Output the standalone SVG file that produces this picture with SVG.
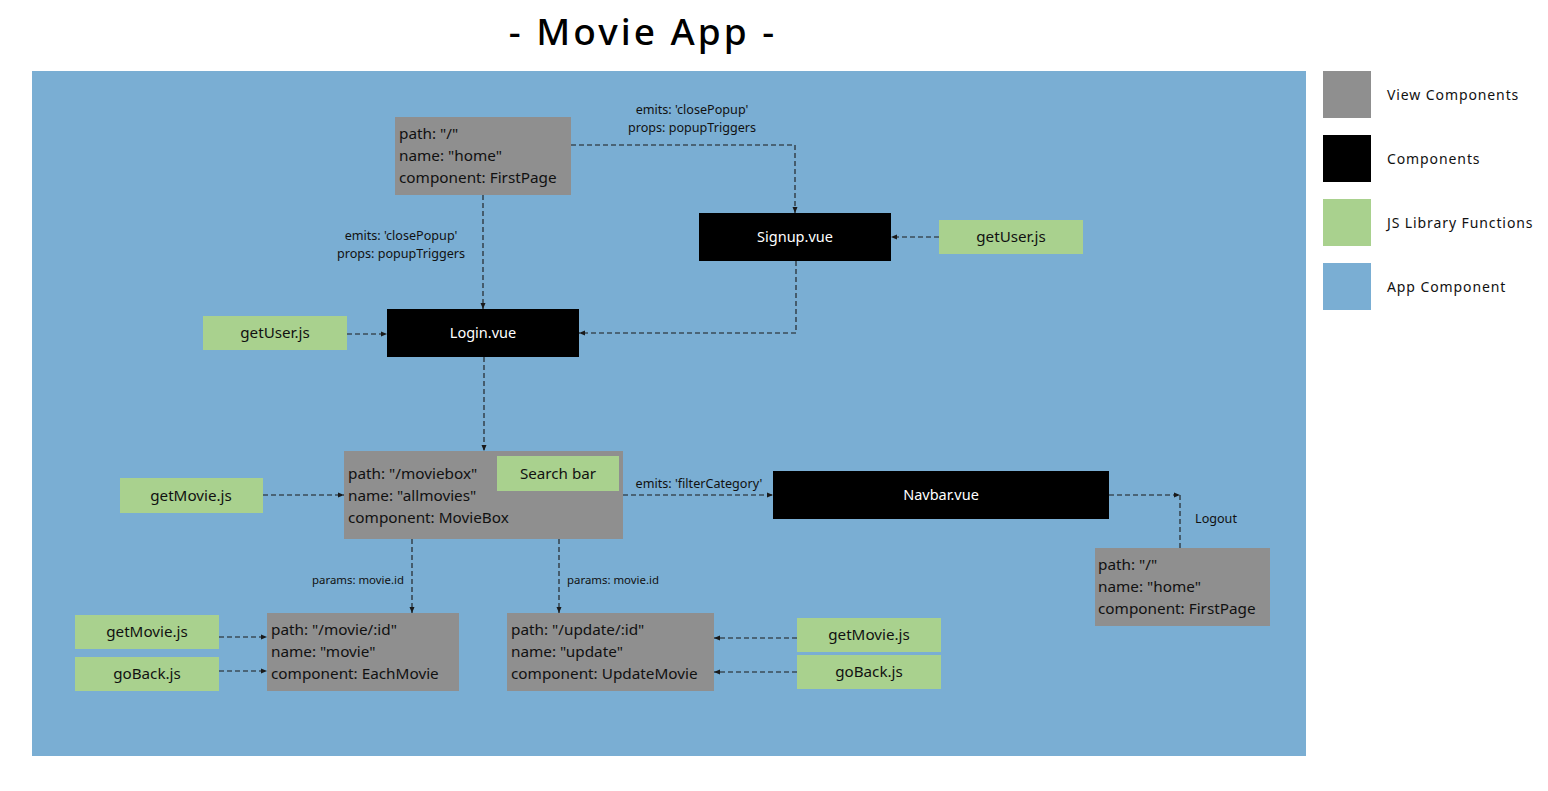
<svg xmlns="http://www.w3.org/2000/svg" width="1548" height="791" viewBox="0 0 1548 791">
<style>
text{font-family:"Noto Sans","DejaVu Sans",sans-serif;}
.view{fill:#8f8f8f;}
.comp{fill:#000;}
.js{fill:#a9d18e;}
.app{fill:#7aaed3;}
.t{font-size:15.3px;fill:#111;}
.tw{font-size:14.5px;fill:#fff;text-anchor:middle;}
.tj{font-size:15.2px;fill:#111;text-anchor:middle;}
.lbl{font-size:12.6px;fill:#111;}
.sm{font-size:11.4px;}
.leg{font-size:14px;fill:#111;letter-spacing:0.9px;}
.c{fill:none;stroke:#1a1a1a;stroke-width:1.1;stroke-dasharray:5 3;}
</style>
<defs>
<marker id="a" viewBox="0 0 6 6" refX="6" refY="3" markerWidth="6" markerHeight="6" orient="auto" markerUnits="userSpaceOnUse">
<path d="M0,0.5 L6,3 L0,5.5 z" fill="#1a1a1a"/>
</marker>
</defs>
<rect width="1548" height="791" fill="#fff"/>
<text x="643" y="45" font-size="37" font-weight="500" text-anchor="middle" fill="#000" letter-spacing="3">- Movie App -</text>
<rect class="app" x="32" y="71" width="1274" height="685"/>

<g id="legend">
<rect class="view" x="1323" y="71" width="48" height="47"/>
<text class="leg" x="1387" y="100">View Components</text>
<rect class="comp" x="1323" y="135" width="48" height="47"/>
<text class="leg" x="1387" y="164">Components</text>
<rect class="js" x="1323" y="199" width="48" height="47"/>
<text class="leg" x="1387" y="228">JS Library Functions</text>
<rect class="app" x="1323" y="263" width="48" height="47"/>
<text class="leg" x="1387" y="292">App Component</text>
</g>

<g id="connectors">
<polyline class="c" points="571,145 795,145 795,213" marker-end="url(#a)"/>
<text class="lbl" x="692" y="114" text-anchor="middle">emits: 'closePopup'</text>
<text class="lbl" x="692" y="132" text-anchor="middle">props: popupTriggers</text>
<line class="c" x1="483" y1="195" x2="483" y2="309" marker-end="url(#a)"/>
<text class="lbl" x="401" y="240" text-anchor="middle">emits: 'closePopup'</text>
<text class="lbl" x="401" y="258" text-anchor="middle">props: popupTriggers</text>
<line class="c" x1="939" y1="237" x2="891" y2="237" marker-end="url(#a)"/>
<polyline class="c" points="796,261 796,333 579,333" marker-end="url(#a)"/>
<line class="c" x1="347" y1="334" x2="387" y2="334" marker-end="url(#a)"/>
<line class="c" x1="484" y1="357" x2="484" y2="451" marker-end="url(#a)"/>
<line class="c" x1="263" y1="495" x2="344" y2="495" marker-end="url(#a)"/>
<line class="c" x1="623" y1="495" x2="773" y2="495" marker-end="url(#a)"/>
<text class="lbl" x="699" y="488" text-anchor="middle">emits: 'filterCategory'</text>
<line class="c" x1="1109" y1="495" x2="1180" y2="495" marker-end="url(#a)"/>
<line class="c" x1="1180" y1="495" x2="1180" y2="548"/>
<text class="lbl" x="1216" y="523" text-anchor="middle">Logout</text>
<line class="c" x1="412" y1="539" x2="412" y2="613" marker-end="url(#a)"/>
<text class="lbl sm" x="358" y="584" text-anchor="middle">params: movie.id</text>
<line class="c" x1="559" y1="539" x2="559" y2="613" marker-end="url(#a)"/>
<text class="lbl sm" x="613" y="584" text-anchor="middle">params: movie.id</text>
<line class="c" x1="219" y1="637" x2="267" y2="637" marker-end="url(#a)"/>
<line class="c" x1="219" y1="671" x2="267" y2="671" marker-end="url(#a)"/>
<line class="c" x1="797" y1="638" x2="714" y2="638" marker-end="url(#a)"/>
<line class="c" x1="797" y1="672" x2="714" y2="672" marker-end="url(#a)"/>
</g>

<g id="home-top">
<rect class="view" x="395" y="117" width="176" height="78"/>
<text class="t" x="399" y="139">path: "/"</text>
<text class="t" x="399" y="161">name: "home"</text>
<text class="t" x="399" y="183">component: FirstPage</text>
</g>
<g id="signup">
<rect class="comp" x="699" y="213" width="192" height="48"/>
<text class="tw" x="795" y="242">Signup.vue</text>
</g>
<g id="getuser-right">
<rect class="js" x="939" y="220" width="144" height="34"/>
<text class="tj" x="1011" y="242">getUser.js</text>
</g>
<g id="login">
<rect class="comp" x="387" y="309" width="192" height="48"/>
<text class="tw" x="483" y="338">Login.vue</text>
</g>
<g id="getuser-left">
<rect class="js" x="203" y="316" width="144" height="34"/>
<text class="tj" x="275" y="338">getUser.js</text>
</g>
<g id="moviebox">
<rect class="view" x="344" y="451" width="279" height="88"/>
<text class="t" x="348" y="479">path: "/moviebox"</text>
<text class="t" x="348" y="501">name: "allmovies"</text>
<text class="t" x="348" y="523">component: MovieBox</text>
</g>
<g id="searchbar">
<rect class="js" x="497" y="456" width="122" height="35"/>
<text class="tj" x="558" y="479">Search bar</text>
</g>
<g id="getmovie-main">
<rect class="js" x="120" y="478" width="143" height="35"/>
<text class="tj" x="191" y="501">getMovie.js</text>
</g>
<g id="navbar">
<rect class="comp" x="773" y="471" width="336" height="48"/>
<text class="tw" x="941" y="500">Navbar.vue</text>
</g>
<g id="home-right">
<rect class="view" x="1095" y="548" width="175" height="78"/>
<text class="t" x="1098" y="570">path: "/"</text>
<text class="t" x="1098" y="592">name: "home"</text>
<text class="t" x="1098" y="614">component: FirstPage</text>
</g>
<g id="eachmovie">
<rect class="view" x="267" y="613" width="192" height="78"/>
<text class="t" x="271" y="635">path: "/movie/:id"</text>
<text class="t" x="271" y="657">name: "movie"</text>
<text class="t" x="271" y="679">component: EachMovie</text>
</g>
<g id="getmovie-left">
<rect class="js" x="75" y="615" width="144" height="34"/>
<text class="tj" x="147" y="637">getMovie.js</text>
</g>
<g id="goback-left">
<rect class="js" x="75" y="657" width="144" height="34"/>
<text class="tj" x="147" y="679">goBack.js</text>
</g>
<g id="updatemovie">
<rect class="view" x="507" y="613" width="207" height="78"/>
<text class="t" x="511" y="635">path: "/update/:id"</text>
<text class="t" x="511" y="657">name: "update"</text>
<text class="t" x="511" y="679">component: UpdateMovie</text>
</g>
<g id="getmovie-right">
<rect class="js" x="797" y="618" width="144" height="34"/>
<text class="tj" x="869" y="640">getMovie.js</text>
</g>
<g id="goback-right">
<rect class="js" x="797" y="655" width="144" height="34"/>
<text class="tj" x="869" y="677">goBack.js</text>
</g>
</svg>
